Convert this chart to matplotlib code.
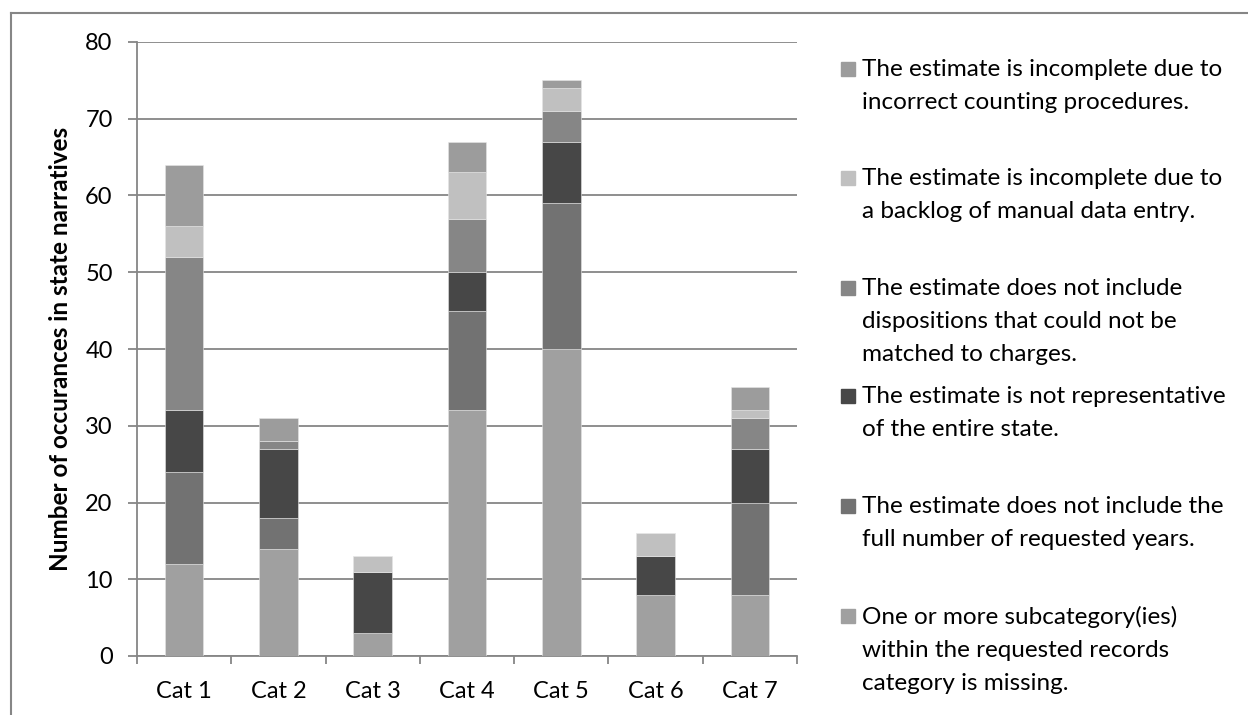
import matplotlib
matplotlib.use("Agg")
import matplotlib.pyplot as plt
from matplotlib.patches import Rectangle
from matplotlib.lines import Line2D
import numpy as np

plt.rcParams['font.family'] = ['Lato', 'DejaVu Sans']

categories = ["Cat 1", "Cat 2", "Cat 3", "Cat 4", "Cat 5", "Cat 6", "Cat 7"]

# series from bottom of stack to top
subcategory_missing = [12, 14, 3, 32, 40, 8, 8]
not_full_years = [12, 4, 0, 13, 19, 0, 12]
not_representative = [8, 9, 8, 5, 8, 5, 7]
dispositions_unmatched = [20, 1, 0, 7, 4, 0, 4]
backlog_manual = [4, 0, 2, 6, 3, 3, 1]
incorrect_counting = [8, 3, 0, 4, 1, 0, 3]

series_labels = [
    "One or more subcategory(ies)\nwithin the requested records\ncategory is missing.",
    "The estimate does not include the\nfull number of requested years.",
    "The estimate is not representative\nof the entire state.",
    "The estimate does not include\ndispositions that could not be\nmatched to charges.",
    "The estimate is incomplete due to\na backlog of manual data entry.",
    "The estimate is incomplete due to\nincorrect counting procedures.",
]
series_values = [subcategory_missing, not_full_years, not_representative,
                 dispositions_unmatched, backlog_manual, incorrect_counting]
series_colors = ["#A0A0A0", "#727272", "#474747", "#868686", "#C0C0C0", "#9C9C9C"]

yticks = [0, 10, 20, 30, 40, 50, 60, 70, 80]

W, H = 1248, 715
FS = 17
fig = plt.figure(figsize=(W / 100, H / 100), dpi=100)

# outer frame (cropped on right and bottom)
fig.add_artist(Line2D([11 / W, 11 / W], [0, 1 - 13 / H], transform=fig.transFigure,
                      color="#868686", lw=1.5))
fig.add_artist(Line2D([11 / W, 1], [1 - 13 / H, 1 - 13 / H], transform=fig.transFigure,
                      color="#868686", lw=1.5))

ax = fig.add_axes([137 / W, 1 - 656 / H, (797 - 137) / W, (656 - 42) / H])
x = np.arange(len(categories))
bottom = np.zeros(len(categories))
for vals, col in zip(series_values, series_colors):
    ax.bar(x, vals, width=0.41, bottom=bottom, color=col, edgecolor="#e6e6e6",
           linewidth=0.4, zorder=3)
    bottom += np.array(vals)

ax.set_xlim(-0.5, len(categories) - 0.5)
ax.set_ylim(0, 80)
ax.set_yticks(yticks)
ax.set_yticklabels([str(v) for v in yticks], fontsize=FS)
ax.set_xticks(x)
ax.set_xticklabels(categories, fontsize=FS)
ax.set_xticks(np.arange(-0.5, len(categories), 1.0), minor=True)
ax.tick_params(axis='x', which='major', length=0, pad=18)
ax.tick_params(axis='x', which='minor', length=6, width=1.3, color="#868686", direction='out')
ax.tick_params(axis='y', which='major', length=6.5, width=1.3, color="#868686", pad=11)
ax.grid(axis='y', color="#868686", linewidth=1.3, zorder=0)
ax.set_axisbelow(True)
for s in ["top", "right"]:
    ax.spines[s].set_visible(False)
for s in ["left", "bottom"]:
    ax.spines[s].set_color("#868686")
    ax.spines[s].set_linewidth(1.3)
ax.set_ylabel("Number of occurances in state narratives", fontsize=17.5,
              fontweight='bold')
ax.yaxis.set_label_coords((72 - 137) / 660, 0.5)

# manual legend: top series first
legend_order = list(range(len(series_labels)))[::-1]
first_line_y = [69, 178, 288, 396, 506, 616]
for i, idx in enumerate(legend_order):
    yc = first_line_y[i]
    fig.add_artist(Rectangle((841 / W, 1 - (yc + 7) / H), 14 / W, 14 / H,
                             transform=fig.transFigure, color=series_colors[idx]))
    fig.text(862 / W, 1 - (yc - 10) / H, series_labels[idx], fontsize=17.5,
             va='top', ha='left', linespacing=1.7)

fig.savefig("out.png", dpi=100)
